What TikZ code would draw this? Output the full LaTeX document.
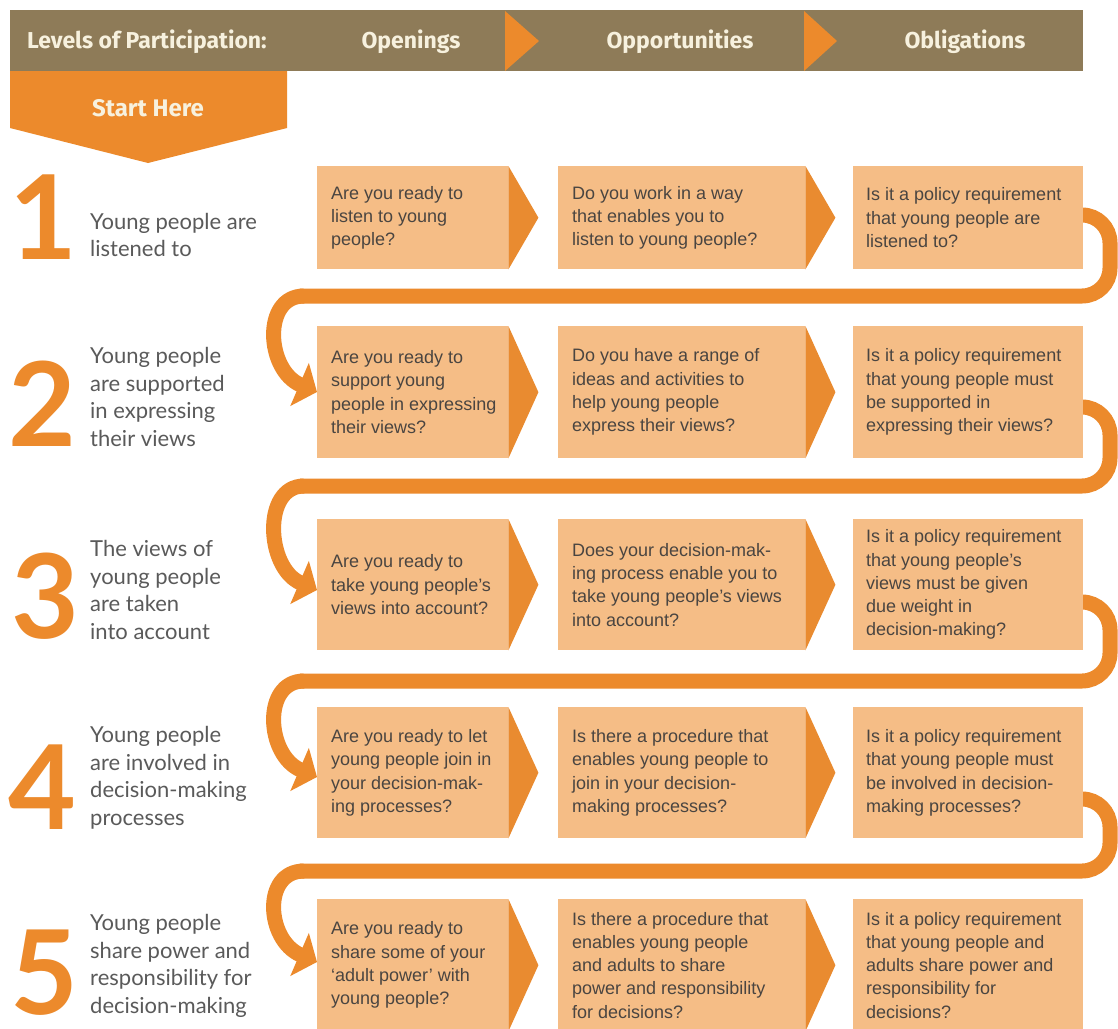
\documentclass[tikz,border=0pt]{standalone}
\usepackage{fontspec}
\setmainfont{Liberation Sans}
\newfontfamily\headfont{Fira Sans}
\newfontfamily\labfont{Lato}
\usetikzlibrary{arrows.meta,calc}
\definecolor{hdr}{HTML}{8E7B58}
\definecolor{hdrtext}{HTML}{F7F1DE}
\definecolor{orng}{HTML}{EC8A2C}
\definecolor{boxfill}{HTML}{F5BD86}
\definecolor{tri}{HTML}{E98B30}
\definecolor{boxtext}{HTML}{4A4541}
\definecolor{labtext}{HTML}{5A5A5A}
% \qrow{row}{top}{height}{text c1}{text c2}{text c3}
\newcommand\qrow[6]{%
  \node[qbox, minimum width=191pt, minimum height=#3pt] (r#1c1) at (317,#2) {};
  \node[qbox, minimum width=247pt, minimum height=#3pt] (r#1c2) at (558,#2) {};
  \node[qbox, minimum width=230pt, minimum height=#3pt] (r#1c3) at (853,#2) {};
  \node[qtext] (t#1c1) at ($(r#1c1.west)+(14,0)$) {#4};
  \node[qtext] (t#1c2) at ($(r#1c2.west)+(14,0)$) {#5};
  \node[qtext] (t#1c3) at ($(r#1c3.west)+(13,0)$) {#6};
}
\begin{document}
\begin{tikzpicture}[x=1pt,y=-1pt,
  qbox/.style={draw=none, fill=boxfill, anchor=north west, inner sep=0pt},
  qtext/.style={anchor=west, align=left, inner sep=0pt, text=boxtext, font=\fontsize{18}{23.3}\selectfont},
  band/.style={draw=orng, line width=15pt},
  hook/.style={band, -{Triangle[length=19pt,width=46pt]}},
  lab/.style={anchor=west, align=left, inner sep=0pt, text=labtext, font=\labfont\fontsize{22}{27.5}\selectfont},
  num/.style={inner sep=0pt, text=orng, font=\labfont\bfseries\fontsize{117}{117}\selectfont},
  htext/.style={anchor=base, inner sep=0pt, text=hdrtext, font=\headfont\bfseries\fontsize{23}{23}\selectfont}
]
\clip (0,0) rectangle (1118,1028);
\fill[white] (0,0) rectangle (1118,1028);

% header bar
\fill[hdr] (10,10) rectangle (1083,71);
\fill[orng] (505,11) -- (539,41) -- (505,71) -- cycle;
\fill[orng] (804,11) -- (837,41) -- (804,71) -- cycle;
\node[htext, anchor=base west] (hlev) at (27,48) {Levels of Participation:};
\node[htext] (hopen) at (411,48) {Openings};
\node[htext] (hopp) at (680,48) {Opportunities};
\node[htext] (hobl) at (965,48) {Obligations};

% start here
\fill[orng] (10,71) -- (287,71) -- (287,128) -- (148,163) -- (10,128) -- cycle;
\node[htext, font=\headfont\bfseries\fontsize{24}{24}\selectfont] (start) at (148,116) {Start Here};

% connector coordinates
\coordinate (s1) at (1075,215); \coordinate (b1) at (1110,296);
\coordinate (s2) at (1075,407); \coordinate (b2) at (1110,486);
\coordinate (s3) at (1075,602); \coordinate (b3) at (1110,681);
\coordinate (s4) at (1075,799); \coordinate (b4) at (1110,871);

% serpentine connectors (under the boxes)
\draw[band, rounded corners=28pt] (s1) -- (b1 |- s1) -- (b1) -- (300,296);
\draw[band, rounded corners=28pt] (s2) -- (b2 |- s2) -- (b2) -- (300,486);
\draw[band, rounded corners=28pt] (s3) -- (b3 |- s3) -- (b3) -- (300,681);
\draw[band, rounded corners=28pt] (s4) -- (b4 |- s4) -- (b4) -- (300,871);

% rows of question boxes
\qrow{1}{166}{103}{Are you ready to\\listen to young\\people?}{Do you work in a way\\that enables you to\\listen to young people?}{Is it a policy requirement\\that young people are\\listened to?}
\qrow{2}{326}{132}{Are you ready to\\support young\\people in expressing\\their views?}{Do you have a range of\\ideas and activities to\\help young people\\express their views?}{Is it a policy requirement\\that young people must\\be supported in\\expressing their views?}
\qrow{3}{519}{131}{Are you ready to\\take young people’s\\views into account?}{Does your decision-mak-\\ing process enable you to\\take young people’s views\\into account?}{Is it a policy requirement\\that young people’s\\views must be given\\due weight in\\decision-making?}
\qrow{4}{707}{131}{Are you ready to let\\young people join in\\your decision-mak-\\ing processes?}{Is there a procedure that\\enables young people to\\join in your decision-\\making processes?}{Is it a policy requirement\\that young people must\\be involved in decision-\\making processes?}
\qrow{5}{899}{132}{Are you ready to\\share some of your\\‘adult power’ with\\young people?}{Is there a procedure that\\enables young people\\and adults to share\\power and responsibility\\for decisions?}{Is it a policy requirement\\that young people and\\adults share power and\\responsibility for\\decisions?}

% arrow triangles between boxes
\foreach \r in {1,...,5}{
  \fill[tri] (r\r c1.north east) -- ($(r\r c1.east)+(30,0)$) -- (r\r c1.south east) -- cycle;
  \fill[tri] (r\r c2.north east) -- ($(r\r c2.east)+(30,0)$) -- (r\r c2.south east) -- cycle;
}

% hooks into the first box of the next row
\draw[hook] (304,296) .. controls (262,296) and (266,370) .. (r2c1.west |- 0,392);
\draw[hook] (304,486) .. controls (262,486) and (266,568) .. (r3c1.west |- 0,590);
\draw[hook] (304,681) .. controls (262,681) and (266,755) .. (r4c1.west |- 0,777);
\draw[hook] (304,871) .. controls (262,871) and (266,940) .. (r5c1.west |- 0,962);

% level labels
\node[num] (n1) at (43,217) {1};
\node[num] (n2) at (42,404) {2};
\node[num] (n3) at (45,596) {3};
\node[num] (n4) at (42,787) {4};
\node[num] (n5) at (44,973) {5};
\node[lab] (l1) at (90,235) {Young people are\\listened to};
\node[lab] (l2) at (90,397) {Young people\\are supported\\in expressing\\their views};
\node[lab] (l3) at (90,590) {The views of\\young people\\are taken\\into account};
\node[lab] (l4) at (90,778) {Young people\\are involved in\\decision-making\\processes};
\node[lab] (l5) at (90,966) {Young people\\share power and\\responsibility for\\decision-making};
\end{tikzpicture}
\end{document}
